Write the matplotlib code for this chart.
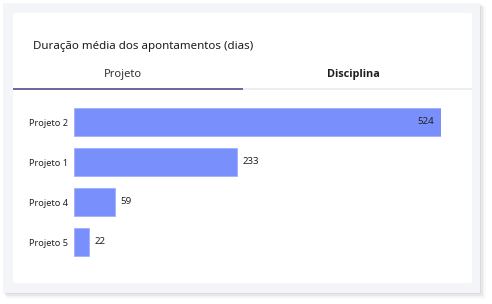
import matplotlib.pyplot as plt
from matplotlib.patches import FancyBboxPatch, Rectangle

projects = ['Projeto 2', 'Projeto 1', 'Projeto 4', 'Projeto 5']
duration = [524, 233, 59, 22]
title = 'Duração média dos apontamentos (dias)'
tabs = ['Projeto', 'Disciplina']

W, H = 492, 304
bar_color = '#7990fc'
plt.rcParams['font.family'] = ['Noto Sans', 'DejaVu Sans']

fig = plt.figure(figsize=(W / 100, H / 100), dpi=100)
fig.patch.set_facecolor('white')


def px_rect(x0, y0, x1, y1, **kw):
    # pixel coords, top-left origin
    return Rectangle((x0 / W, 1 - y1 / H), (x1 - x0) / W, (y1 - y0) / H,
                     transform=fig.transFigure, **kw)


# soft shadow around the grey panel
for i, a in enumerate([0.05, 0.04, 0.03, 0.02]):
    fig.patches.append(px_rect(4 + i, 4 + i, 481 + i * 1.5, 294 + i * 1.5,
                               facecolor='#000000', alpha=a, edgecolor='none', zorder=0))
fig.patches.append(px_rect(3, 3, 480, 293, facecolor='#f3f5f9', edgecolor='none', zorder=1))

card = FancyBboxPatch((13 / W, 1 - 283 / H), (472 - 13) / W, (283 - 13) / H,
                      boxstyle='round,pad=0,rounding_size=0.006',
                      transform=fig.transFigure, facecolor='white',
                      edgecolor='none', zorder=2)
fig.patches.append(card)

# tab underline
fig.patches.append(px_rect(243, 88.5, 472, 90, facecolor='#eceef2', edgecolor='none', zorder=3))
fig.patches.append(px_rect(13, 88, 243, 90, facecolor='#6f6a9e', edgecolor='none', zorder=3))

fig.text(33 / W, 1 - 46 / H, title, fontsize=8.3, color='#1c1c1c',
         ha='left', va='center', zorder=4)
fig.text(123 / W, 1 - 75 / H, tabs[0], fontsize=8, color='#333333',
         ha='center', va='center', zorder=4)
fig.text(353 / W, 1 - 75 / H, tabs[1], fontsize=7.8, color='#1f1f1f',
         family=['Open Sans', 'DejaVu Sans'], fontweight='bold',
         ha='center', va='center', zorder=4)

# bar axes
ax = fig.add_axes([74 / W, 1 - 262 / H, (441 - 74) / W, 160 / H], zorder=5)
ax.patch.set_visible(False)
ypos = list(range(len(projects)))
ax.barh(ypos, duration, height=0.7, color=bar_color, edgecolor='#9fb0fd', linewidth=0.6)
ax.set_xlim(0, max(duration))
ax.set_ylim(len(projects) - 0.5, -0.5)
ax.set_yticks(ypos)
ax.set_yticklabels(projects, fontsize=6.6, color='#222222')
ax.tick_params(axis='y', length=0, pad=4)
ax.set_xticks([])
for s in ax.spines.values():
    s.set_visible(False)

for y, v in zip(ypos, duration):
    if v == max(duration):
        ax.annotate(str(v), (v, y), xytext=(-5, 0), textcoords='offset points',
                    ha='right', va='center', fontsize=7, color='#222222')
    else:
        ax.annotate(str(v), (v, y), xytext=(4, 0), textcoords='offset points',
                    ha='left', va='center', fontsize=7, color='#222222')

fig.savefig('out.png', dpi=100)
